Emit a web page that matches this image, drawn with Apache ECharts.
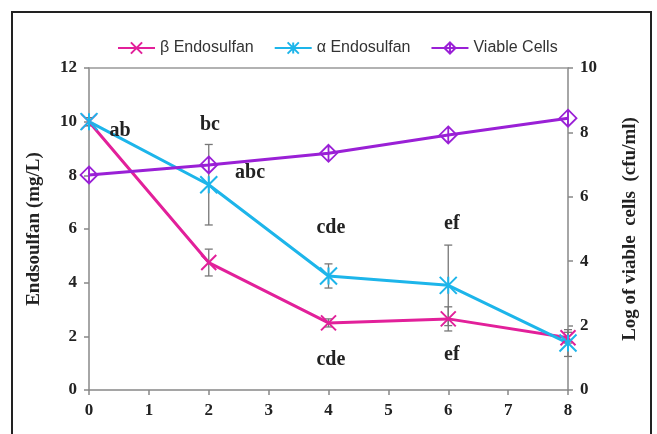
<!DOCTYPE html>
<html><head><meta charset="utf-8">
<script src="https://cdn.jsdelivr.net/npm/echarts@6/dist/echarts.min.js"></script>
<style>html,body{margin:0;padding:0;background:#fff}#c{width:657px;height:434px}</style>
</head><body><div id="c"></div>
<script>
const days = [0, 2, 4, 6, 8];
const betaVals = [10.0, 4.75, 2.5, 2.65, 1.95];
const betaErr = [0.15, 0.5, 0.15, 0.45, 0.2];
const alphaVals = [10.0, 7.65, 4.25, 3.9, 1.75];
const alphaErr = [0.15, 1.5, 0.45, 1.5, 0.5];
const viableVals = [6.68, 6.99, 7.35, 7.92, 8.44];
const letterText = ['ab', 'bc', 'abc', 'cde', 'cde', 'ef', 'ef'];
const letterX = [0.52, 2.02, 2.69, 4.04, 4.04, 6.06, 6.06];
const letterY = [9.65, 9.88, 8.09, 6.04, 1.12, 6.19, 1.3];
const xTicks = [0, 1, 2, 3, 4, 5, 6, 7, 8];
const leftTicks = [0, 2, 4, 6, 8, 10, 12];
const rightTicks = [0, 2, 4, 6, 8, 10];

const cBeta = '#E2209A', cAlpha = '#1DB5EA', cViable = '#9A20D6';
const serif = '"Liberation Serif","Times New Roman",serif';
const starX = 'path://M0,0L10,10M10,0L0,10';
const starA = 'path://M0,0L10,10M10,0L0,10M5,0L5,10';
const diamond = 'path://M5,0L10,5L5,10L0,5ZM5,0L5,10';

function errSeries(vals, errs) {
  return {
    type: 'custom', yAxisIndex: 0, silent: true, z: 1,
    data: days.map((d, i) => [d, vals[i] - errs[i], vals[i] + errs[i]]),
    renderItem: function (params, api) {
      const lo = api.coord([api.value(0), api.value(1)]);
      const hi = api.coord([api.value(0), api.value(2)]);
      const w = 4;
      const st = { stroke: '#777', lineWidth: 1.3 };
      return { type: 'group', children: [
        { type: 'line', shape: { x1: lo[0], y1: lo[1], x2: hi[0], y2: hi[1] }, style: st },
        { type: 'line', shape: { x1: lo[0] - w, y1: lo[1], x2: lo[0] + w, y2: lo[1] }, style: st },
        { type: 'line', shape: { x1: hi[0] - w, y1: hi[1], x2: hi[0] + w, y2: hi[1] }, style: st }
      ]};
    }
  };
}

const axisLabelStyle = { margin: 12, fontFamily: serif, fontWeight: 'bold', fontSize: 17, color: '#222' };
const nameStyle = { fontFamily: serif, fontWeight: 'bold', fontSize: 19, color: '#222' };

const chart = echarts.init(document.getElementById('c'));
chart.setOption({
  animation: false,
  backgroundColor: '#fff',
  graphic: [{ type: 'rect', shape: { x: 12, y: 12, width: 639, height: 440 },
    style: { fill: 'none', stroke: '#222', lineWidth: 2 }, silent: true }],
  legend: {
    top: 35, left: 112, itemWidth: 37, itemHeight: 14, itemGap: 20,
    textStyle: { fontFamily: '"Liberation Sans Narrow","Liberation Sans",Arial,sans-serif', fontSize: 16, color: '#333' },
    data: ['β Endosulfan', 'α Endosulfan', 'Viable Cells']
  },
  grid: { left: 89, right: 89, top: 68, bottom: 44 },
  xAxis: [{
    type: 'value', min: 0, max: 8, interval: 1,
    axisLine: { show: true, onZero: false, lineStyle: { color: '#888', width: 1.5 } },
    axisTick: { show: true, length: 5, lineStyle: { color: '#888', width: 1.5 } },
    splitLine: { show: false },
    axisLabel: Object.assign({}, axisLabelStyle, { formatter: v => xTicks.includes(v) ? String(v) : '' })
  }, {
    type: 'value', position: 'top', min: 0, max: 8,
    axisLine: { show: true, onZero: false, lineStyle: { color: '#999', width: 1.5 } },
    axisTick: { show: false }, axisLabel: { show: false }, splitLine: { show: false }
  }],
  yAxis: [{
    type: 'value', min: 0, max: 12, interval: 2, position: 'left',
    name: 'Endsoulfan (mg/L)', nameLocation: 'middle', nameGap: 45,
    nameTextStyle: nameStyle,
    axisLine: { show: true, onZero: false, lineStyle: { color: '#888', width: 1.5 } },
    axisTick: { show: true, length: 5, lineStyle: { color: '#888', width: 1.5 } },
    splitLine: { show: false },
    axisLabel: Object.assign({}, axisLabelStyle, { formatter: v => leftTicks.includes(v) ? String(v) : '' })
  }, {
    type: 'value', min: 0, max: 10, interval: 2, position: 'right',
    name: 'Log of viable  cells  (cfu/ml)', nameLocation: 'middle', nameGap: 53, nameRotate: 90,
    nameTextStyle: nameStyle,
    axisLine: { show: true, onZero: false, lineStyle: { color: '#888', width: 1.5 } },
    axisTick: { show: true, length: 5, lineStyle: { color: '#888', width: 1.5 } },
    splitLine: { show: false },
    axisLabel: Object.assign({}, axisLabelStyle, { formatter: v => rightTicks.includes(v) ? String(v) : '' })
  }],
  series: [
    errSeries(betaVals, betaErr),
    errSeries(alphaVals, alphaErr),
    { name: 'β Endosulfan', type: 'line', yAxisIndex: 0, z: 3,
      data: days.map((d, i) => [d, betaVals[i]]),
      symbol: starX, symbolSize: 15,
      lineStyle: { color: cBeta, width: 3 },
      itemStyle: { color: 'rgba(255,255,255,0)', borderColor: cBeta, borderWidth: 2 } },
    { name: 'α Endosulfan', type: 'line', yAxisIndex: 0, z: 3,
      data: days.map((d, i) => [d, alphaVals[i]]),
      symbol: starA, symbolSize: 17,
      lineStyle: { color: cAlpha, width: 3 },
      itemStyle: { color: 'rgba(255,255,255,0)', borderColor: cAlpha, borderWidth: 2 } },
    { name: 'Viable Cells', type: 'line', yAxisIndex: 1, z: 3,
      data: days.map((d, i) => [d, viableVals[i]]),
      symbol: diamond, symbolSize: 17,
      lineStyle: { color: cViable, width: 3 },
      itemStyle: { color: 'rgba(255,255,255,0)', borderColor: cViable, borderWidth: 1.8 } },
    { type: 'scatter', yAxisIndex: 0, symbol: 'circle', symbolSize: 1, silent: true, z: 5,
      itemStyle: { opacity: 0 },
      data: letterX.map((x, i) => ({ value: [x, letterY[i]], name: letterText[i] })),
      label: { show: true, position: 'inside', formatter: p => p.name, opacity: 1,
        fontFamily: serif, fontWeight: 'bold', fontSize: 20, color: '#222' } }
  ]
});
</script></body></html>
